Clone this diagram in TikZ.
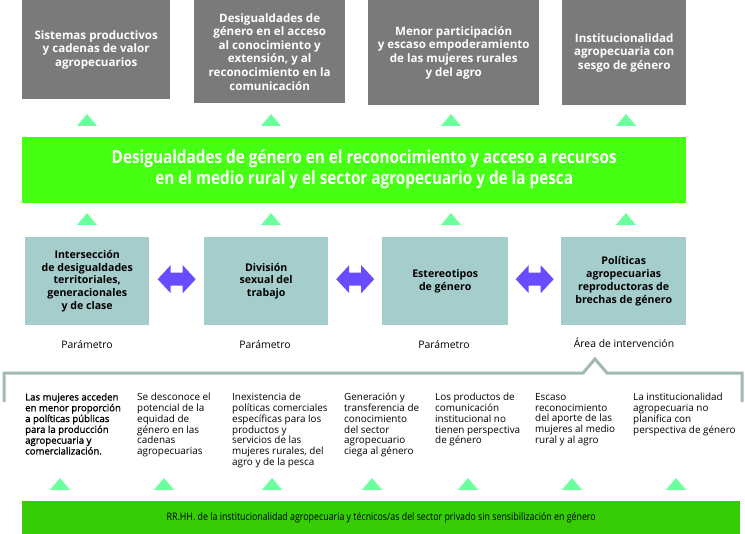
\documentclass[tikz,border=0pt]{standalone}
\usepackage{fontspec}
\setmainfont{Open Sans}
\newfontfamily\condfont{Open Sans}[FakeStretch=0.85]
\newfontfamily\semib{Open Sans}[FakeBold=1.3]
\usetikzlibrary{positioning,calc}
\definecolor{boxgray}{HTML}{7A7A7A}
\definecolor{bannergreen}{HTML}{46FF12}
\definecolor{mint}{HTML}{6CFF9E}
\definecolor{tealbox}{HTML}{A5CDCB}
\definecolor{arrowc}{HTML}{6A4BFF}
\definecolor{bracketc}{HTML}{A2B8B2}
\definecolor{bargreen}{HTML}{36CC06}
\tikzset{
  topbox/.style={fill=boxgray, draw=none, inner sep=0pt, text=white, align=center,
    font=\fontsize{11.6bp}{13.6bp}\selectfont\bfseries, anchor=north west},
  tealnode/.style={fill=tealbox, draw=none, inner sep=0pt, text=black, align=center,
    font=\fontsize{10.6bp}{12.7bp}\selectfont\bfseries, anchor=north west,
    minimum height=88bp},
  lbl/.style={font=\fontsize{10.4bp}{12bp}\selectfont, text=black, inner sep=0pt},
  coltext/.style={font=\fontsize{9.9bp}{10.8bp}\selectfont, text=black, align=left,
    anchor=north west, inner sep=0pt},
  tri/.pic={\fill[mint] (-10,6) -- (10,6) -- (0,-6) -- cycle;},
  dbl/.pic={\fill[arrowc] (-19,0) -- (-6,-14) -- (-6,-6.5) -- (6,-6.5) -- (6,-14) -- (19,0)
     -- (6,14) -- (6,6.5) -- (-6,6.5) -- (-6,14) -- cycle;}
}
\begin{document}
\begin{tikzpicture}[x=1bp, y=-1bp]
\useasboundingbox (0,0) rectangle (745,534);
% top boxes
\node[topbox, minimum width=148bp, minimum height=99bp] (g1) at (22,0)
  {Sistemas productivos\\y cadenas de valor\\agropecuarios};
\node[topbox, minimum width=151bp, minimum height=103bp] (g2) at (194,0)
  {Desigualdades de\\género en el acceso\\al conocimiento y\\extensión, y al\\reconocimiento en la\\comunicación};
\node[topbox, minimum width=171bp, minimum height=105bp] (g3) at (368,0)
  {Menor participación\\y escaso empoderamiento\\de las mujeres rurales\\y del agro};
\node[topbox, minimum width=124bp, minimum height=105bp] (g4) at (562,0)
  {Institucionalidad\\agropecuaria con\\sesgo de género};
% triangles top rows
\foreach \x in {87,271,451,626}{
  \pic at (\x,120) {tri};
  \pic at (\x,219) {tri};
}
% banner
\node[fill=bannergreen, draw=none, inner sep=0pt, minimum width=664bp, minimum height=66bp,
  anchor=north west] (banner) at (22,137) {};
\node[text=white, align=center, inner sep=0pt,
  font=\condfont\fontsize{18bp}{21bp}\selectfont\bfseries] (bannertext) at ([xshift=10bp,yshift=1bp]banner.center)
  {Desigualdades de género en el reconocimiento y acceso a recursos\\en el medio rural y el sector agropecuario y de la pesca};
% teal boxes
\node[tealnode, minimum width=124bp] (p1) at (25,237)
  {Intersección\\de desigualdades\\territoriales,\\generacionales\\y de clase};
\node[tealnode, minimum width=124bp] (p2) at (204,237)
  {División\\sexual del\\trabajo};
\node[tealnode, minimum width=126bp] (p3) at (382,237)
  {Estereotipos\\de género};
\node[tealnode, minimum width=125bp] (p4) at (561,237)
  {Políticas\\agropecuarias\\reproductoras de\\brechas de género};
% double arrows
\pic at ($(p1.east)!0.5!(p2.west)+(0,-2)$) {dbl};
\pic at ($(p2.east)!0.5!(p3.west)+(0,-2)$) {dbl};
\pic at ($(p3.east)!0.5!(p4.west)+(0,-2)$) {dbl};
% labels
\node[lbl] (l1) at (87,345) {Parámetro};
\node[lbl] (l2) at (265,345) {Parámetro};
\node[lbl] (l3) at (444,345) {Parámetro};
\node[lbl] (l4) at (624,343) {Área de intervención};
% bracket
\draw[bracketc, line width=3bp] (4,402) -- (4,373) -- (583,373) -- (595,359) -- (607,373) -- (742,373) -- (742,402);
% columns
\node[coltext, font=\semib\fontsize{9.6bp}{10.8bp}\selectfont] (c1) at (25,393)
  {Las mujeres acceden\\en menor proporción\\a políticas públicas\\para la producción\\agropecuaria y\\comercialización.};
\node[coltext] (c2) at (137,393)
  {Se desconoce el\\potencial de la\\equidad de\\género en las\\cadenas\\agropecuarias};
\node[coltext] (c3) at (232,393)
  {Inexistencia de\\políticas comerciales\\específicas para los\\productos y\\servicios de las\\mujeres rurales, del\\agro y de la pesca};
\node[coltext] (c4) at (344,393)
  {Generación y\\transferencia de\\conocimiento\\del sector\\agropecuario\\ciega al género};
\node[coltext] (c5) at (435,393)
  {Los productos de\\comunicación\\institucional no\\tienen perspectiva\\de género};
\node[coltext] (c6) at (535,393)
  {Escaso\\reconocimiento\\del aporte de las\\mujeres al medio\\rural y al agro};
\node[coltext] (c7) at (633,393)
  {La institucionalidad\\agropecuaria no\\planifica con\\perspectiva de género};
% bottom triangles
\foreach \x in {60,164,272,372,468,572,676}{
  \pic at (\x,484) {tri};
}
% bottom bar
\node[fill=bargreen, draw=none, inner sep=0pt, minimum width=718bp, minimum height=34bp,
  anchor=north west, text=black, font=\condfont\fontsize{10.4bp}{12bp}\selectfont] (bar) at (22,501)
  {RR.HH. de la institucionalidad agropecuaria y técnicos/as del sector privado sin sensibilización en género};
\end{tikzpicture}
\end{document}
